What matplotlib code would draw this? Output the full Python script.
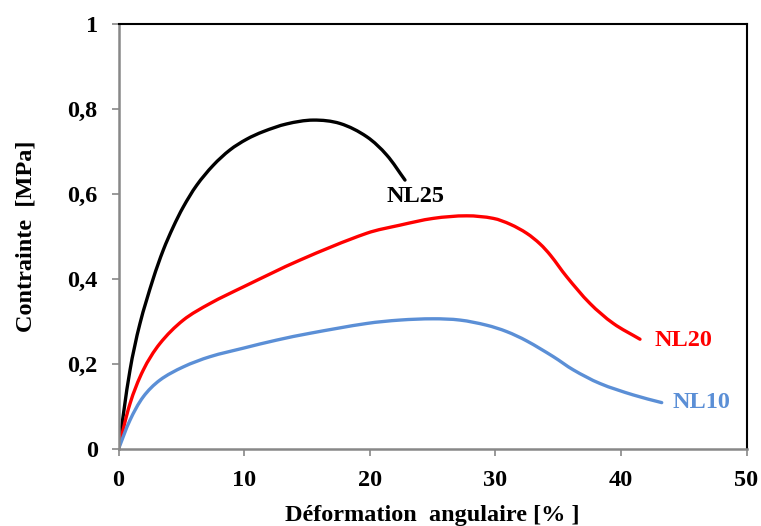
"""Stress vs angular strain curves for NL10 / NL20 / NL25 (Agg headless)."""

import matplotlib

matplotlib.use("Agg")

import matplotlib.pyplot as plt
import numpy as np
from matplotlib.patches import PathPatch
from matplotlib.path import Path
from matplotlib.ticker import FuncFormatter

# values (strain %, stress MPa)
nl25_x = [0, 0.92, 1.71, 2.77, 3.57, 4.36, 5.16, 6.23, 7.55, 8.88, 10.2, 11.53, 13.39,
          15.5, 17.64, 19.76, 21.35, 22.81]
nl25_y = [0, 0.186, 0.295, 0.401, 0.468, 0.522, 0.569, 0.620, 0.667, 0.703, 0.728, 0.746,
          0.764, 0.773, 0.765, 0.734, 0.691, 0.632]

nl20_x = [0, 0.92, 1.98, 3.3, 5.16, 7.29, 9.94, 14.45, 19.76, 22.4, 25.06, 27.72, 29.84,
          31.2, 32.5, 33.56, 34.4, 35.68, 37.54, 39.4, 41.52]
nl20_y = [0, 0.107, 0.186, 0.248, 0.303, 0.342, 0.381, 0.444, 0.507, 0.526, 0.542, 0.548,
          0.542, 0.528, 0.507, 0.482, 0.455, 0.405, 0.342, 0.295, 0.258]

nl10_x = [0, 0.92, 1.98, 3.3, 5.16, 7.29, 9.94, 12.6, 15.25, 19.76, 22.4, 25.06, 27.19,
          29.3, 30.9, 32.5, 34.62, 36.21, 38.33, 40.99, 43.25]
nl10_y = [0, 0.068, 0.123, 0.162, 0.193, 0.217, 0.237, 0.256, 0.272, 0.295, 0.303, 0.306,
          0.303, 0.291, 0.276, 0.254, 0.217, 0.186, 0.154, 0.127, 0.109]

labels = ["NL25", "NL20", "NL10"]
label_x = [23.65, 44.95, 46.4]
label_y = [0.593, 0.254, 0.109]
colors = ["#000000", "#ff0000", "#5b8fd6"]

_FS = 17.5
_LW = 2.4
_AX_RECT = [118.5 / 761, 1 - 449 / 526, (746.5 - 118.5) / 761, (449 - 23.5) / 526]
_PX_PER_X = (746.5 - 118.5) / 50.0  # pixel scale, so handles are isotropic on screen
_PX_PER_Y = (449 - 23.5) / 1.0


def _smooth_path(xs, ys):
    """Excel-like smoothed line: cubic Bezier through the points, chord-scaled tangents."""
    scale = np.array([_PX_PER_X, _PX_PER_Y])
    pts = np.column_stack([xs, ys]).astype(float) * scale
    n = len(pts)
    seg = np.linalg.norm(np.diff(pts, axis=0), axis=1)
    tangents = np.zeros_like(pts)
    for i in range(n):
        a = pts[max(i - 1, 0)]
        b = pts[min(i + 1, n - 1)]
        d = b - a
        norm = np.linalg.norm(d)
        tangents[i] = d / norm if norm else d
    verts = [pts[0]]
    codes = [Path.MOVETO]
    for i in range(n - 1):
        h = seg[i] / 3.0
        verts += [pts[i] + tangents[i] * h, pts[i + 1] - tangents[i + 1] * h, pts[i + 1]]
        codes += [Path.CURVE4] * 3
    return Path(np.array(verts) / scale, codes)


plt.rcParams["font.family"] = ["Liberation Serif", "DejaVu Serif"]
plt.rcParams["font.weight"] = "bold"

fig = plt.figure(figsize=(7.61, 5.26), dpi=100)
ax = fig.add_axes(_AX_RECT)

series = [(nl25_x, nl25_y), (nl20_x, nl20_y), (nl10_x, nl10_y)]
for (xs, ys), color in zip(series, colors):
    patch = PathPatch(_smooth_path(xs, ys), facecolor="none", edgecolor=color,
                      linewidth=_LW, capstyle="round", joinstyle="round")
    ax.add_patch(patch)

for text, tx, ty, color in zip(labels, label_x, label_y, colors):
    ax.text(tx, ty, text, color=color, fontsize=_FS, fontweight="bold", ha="center", va="center")

ax.set_xlim(0, 50)
ax.set_ylim(0, 1)
ax.set_xticks([0, 10, 20, 30, 40, 50])
ax.set_yticks([0, 0.2, 0.4, 0.6, 0.8, 1.0])
ax.yaxis.set_major_formatter(FuncFormatter(lambda v, _: f"{v:g}".replace(".", ",")))
ax.tick_params(direction="out", length=5, width=1.2, color="#888888", labelsize=_FS)
ax.tick_params(axis="y", pad=10)
ax.tick_params(axis="x", pad=10)
for lbl in ax.get_xticklabels() + ax.get_yticklabels():
    lbl.set_fontweight("bold")

for side in ("left", "bottom"):
    ax.spines[side].set_color("#888888")
    ax.spines[side].set_linewidth(1.8)
for side in ("top", "right"):
    ax.spines[side].set_color("black")
    ax.spines[side].set_linewidth(1.5)

ax.set_xlabel("Déformation  angulaire [% ]", fontsize=_FS, fontweight="bold", labelpad=10)
ax.set_ylabel("Contrainte  [MPa]", fontsize=_FS, fontweight="bold", labelpad=22)

fig.savefig("out.png", dpi=100)
plt.close(fig)
